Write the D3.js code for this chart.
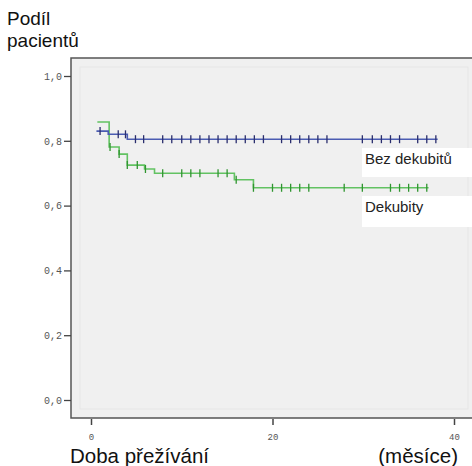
<!DOCTYPE html>
<html><head><meta charset="utf-8">
<script src="https://cdn.jsdelivr.net/npm/d3@7"></script>
<style>body{margin:0;background:#fff}svg{display:block}</style>
</head><body>
<svg id="c" width="472" height="466"></svg>
<script>
// ---- data ----
const seriesNames = ["Bez dekubitů", "Dekubity"];
const blueStepTimes = [0.6, 1.9, 4.0];
const blueStepValues = [0.83, 0.82, 0.805];
const blueEnd = 38.2;
const blueCensor = [1.0, 3.0, 3.8, 4.9, 5.8, 7.9, 8.9, 10, 11, 12, 13, 14, 15, 16, 17, 18, 19, 21, 22, 23, 24, 25, 26, 29.9, 31, 32, 33, 34, 36, 37, 38];
const greenStepTimes = [0.7, 2.0, 3.1, 4.0, 5.9, 7.0, 15.8, 17.9];
const greenStepValues = [0.858, 0.781, 0.759, 0.725, 0.713, 0.70, 0.68, 0.655];
const greenEnd = 37.2;
const greenCensor = [2.1, 3.1, 4.0, 5.1, 6.0, 7.9, 10, 11, 12, 14, 15, 16, 17.9, 20, 21, 22, 23, 24, 27.9, 29.9, 33, 34, 35, 36, 37];
const yTicks = [0, 0.2, 0.4, 0.6, 0.8, 1.0];
const xTicks = [0, 20, 40];

const svg = d3.select("#c");
const x = d3.scaleLinear().domain([0, 40]).range([91, 454]);
const y = d3.scaleLinear().domain([0, 1]).range([400, 76]);

// panel
svg.append("rect").attr("x", 71).attr("y", 58).attr("width", 420).attr("height", 360)
  .attr("fill", "#f0f0f0").attr("stroke", "#555").attr("stroke-width", 1.5);
svg.append("rect").attr("x", 80).attr("y", 67).attr("width", 388).attr("height", 342)
  .attr("fill", "none").attr("stroke", "#e6e6e6").attr("stroke-width", 1);

// axes
const ya = svg.append("g").attr("transform", "translate(71,0)")
  .call(d3.axisLeft(y).tickValues(yTicks).tickSize(7).tickPadding(2)
    .tickFormat(d => d3.format(".1f")(d).replace(".", ",")));
ya.select(".domain").remove();
ya.selectAll("line").attr("stroke", "#444").attr("stroke-width", 1.3);
ya.selectAll("text").attr("font-family", "Liberation Mono, monospace").attr("font-size", 10).attr("fill", "#555");

const xa = svg.append("g").attr("transform", "translate(0,419)")
  .call(d3.axisBottom(x).tickValues(xTicks).tickSize(6).tickPadding(9));
xa.select(".domain").remove();
xa.selectAll("line").attr("stroke", "#444").attr("stroke-width", 1.5);
xa.selectAll("text").attr("font-family", "Liberation Mono, monospace").attr("font-size", 9).attr("fill", "#555");

// curves
function stepPts(times, vals, end) {
  const pts = [];
  for (let i = 0; i < times.length; i++) {
    if (i > 0) pts.push([times[i], vals[i - 1]]);
    pts.push([times[i], vals[i]]);
  }
  pts.push([end, vals[vals.length - 1]]);
  return pts;
}
function valAt(times, vals, t) {
  let v = vals[0];
  for (let i = 0; i < times.length; i++) if (t >= times[i]) v = vals[i];
  return v;
}
const line = d3.line().x(d => x(d[0])).y(d => y(d[1]));
const series = [
  {times: greenStepTimes, vals: greenStepValues, end: greenEnd, cens: greenCensor, col: "#62c262", tick: "#2f952f"},
  {times: blueStepTimes, vals: blueStepValues, end: blueEnd, cens: blueCensor, col: "#4b5cb2", tick: "#2a2e6e"}
];
series.forEach(s => {
  svg.append("path").attr("d", line(stepPts(s.times, s.vals, s.end)))
    .attr("fill", "none").attr("stroke", s.col).attr("stroke-width", 1.6);
  svg.append("g").selectAll("line").data(s.cens).join("line")
    .attr("x1", d => x(d)).attr("x2", d => x(d))
    .attr("y1", d => y(valAt(s.times, s.vals, d)) - 4)
    .attr("y2", d => y(valAt(s.times, s.vals, d)) + 4)
    .attr("stroke", s.tick).attr("stroke-width", 1.3);
});

// labels boxes
const lab = svg.append("g");
lab.append("rect").attr("x", 362).attr("y", 148).attr("width", 110).attr("height", 29).attr("fill", "#fff");
lab.append("rect").attr("x", 362).attr("y", 196).attr("width", 110).attr("height", 31).attr("fill", "#fff");
lab.append("text").attr("x", 365).attr("y", 164).text(seriesNames[0]);
lab.append("text").attr("x", 365).attr("y", 212).text(seriesNames[1]);
lab.selectAll("text").attr("font-family", "Liberation Sans, Arial, sans-serif").attr("font-size", 15).attr("fill", "#222");

// axis titles
const t = svg.append("g").attr("font-family", "Liberation Sans, Arial, sans-serif").attr("fill", "#111");
t.append("text").attr("x", 7).attr("y", 25).attr("font-size", 19).text("Podíl");
t.append("text").attr("x", 7).attr("y", 47).attr("font-size", 19).text("pacientů");
t.append("text").attr("x", 70).attr("y", 463).attr("font-size", 20.5).text("Doba přežívání");
t.append("text").attr("x", 458).attr("y", 463).attr("font-size", 20.5).attr("text-anchor", "end").text("(měsíce)");
</script>
</body></html>
